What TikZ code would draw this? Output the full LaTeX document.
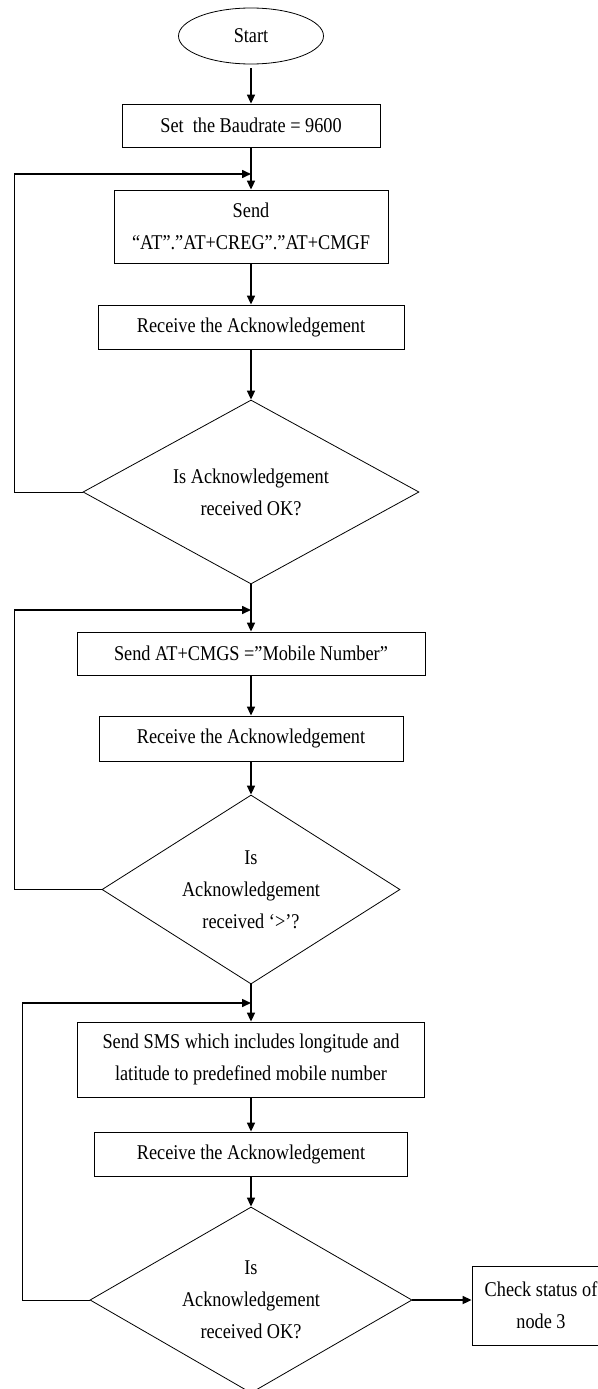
\documentclass[tikz,border=0pt]{standalone}
\usepackage{fontspec}
\setmainfont{Liberation Serif}[FakeStretch=0.87]
\usepackage{tikz}
\usetikzlibrary{positioning,shapes.geometric,arrows.meta}
\tikzset{
	term/.style={ellipse, draw, line width=0.8pt, minimum width=145pt, minimum height=56pt, inner sep=0pt},
	proc box/.style={draw, line width=0.8pt, align=center, inner sep=2pt},
	decision/.style={diamond, draw, line width=0.8pt, align=center, aspect=1.8, inner sep=0pt},
	flow/.style={line width=1.6pt},
	back line/.style={line width=0.8pt}
}

\begin{document}
\begin{tikzpicture}[x=1pt, y=-1pt, >={Triangle[length=9pt,width=8pt]}, font=\fontsize{21}{32}\selectfont]
		\useasboundingbox (0,0) rectangle (597,1389);

		% main column
		\node[term] (start) at (251,36) {Start};
		\node[proc box, minimum width=258pt, minimum height=43pt] (baud) at (251,125.5) {Set~ the Baudrate = 9600};
		\node[proc box, minimum width=274pt, minimum height=73pt] (sendAT) at (251,226.5) {Send\\“AT”.”AT+CREG”.”AT+CMGF};
		\node[proc box, minimum width=306pt, minimum height=44pt] (ackA) at (251,327) {Receive the Acknowledgement};
		\node[decision, minimum width=336pt, minimum height=184pt] (okA) at (251,492) {Is Acknowledgement\\received OK?};

		\node[proc box, minimum width=348pt, minimum height=43pt] (cmgs) at (251,653.5) {Send AT+CMGS =”Mobile Number”};
		\node[proc box, minimum width=304pt, minimum height=45pt] (ackB) at (251,738.5) {Receive the Acknowledgement};
		\node[decision, minimum width=298pt, minimum height=189pt] (okB) at (251,889.5) {Is\\Acknowledgement\\received ‘>’?};

		\node[proc box, minimum width=347pt, minimum height=75pt] (sms) at (251,1059.5) {Send SMS which includes longitude and\\latitude to predefined mobile number};
		\node[proc box, minimum width=313pt, minimum height=44pt] (ackC) at (251,1154) {Receive the Acknowledgement};
		\node[decision, minimum width=322pt, minimum height=186pt] (okC) at (251,1300) {Is\\Acknowledgement\\received OK?};

		\node[proc box, minimum width=138pt, minimum height=79pt] (check) at (541,1305.5) {Check status of\\node 3};

		% arrows down
		\draw[->, flow, shorten <=4pt] (start) -- (baud);
		\draw[->, flow] (baud) -- (sendAT);
		\draw[->, flow] (sendAT) -- (ackA);
		\draw[->, flow] (ackA) -- (okA);
		\draw[->, flow] (okA) -- (cmgs);
		\draw[->, flow] (cmgs) -- (ackB);
		\draw[->, flow] (ackB) -- (okB);
		\draw[->, flow] (okB) -- (sms);
		\draw[->, flow] (sms) -- (ackC);
		\draw[->, flow] (ackC) -- (okC);
		\draw[->, flow] (okC.east) -- (okC.east -| check.west);

		% loops back
		\coordinate (loopA) at (14,174);
		\coordinate (loopB) at (14,610);
		\coordinate (loopC) at (22,1003);
		\draw[back line] (okA.west) -| (loopA);
		\draw[->, flow] (loopA) -- (loopA -| sendAT.north);
		\draw[back line] (okB.west) -| (loopB);
		\draw[->, flow] (loopB) -- (loopB -| cmgs.north);
		\draw[back line] (okC.west) -| (loopC);
		\draw[->, flow] (loopC) -- (loopC -| sms.north);
	\end{tikzpicture}
\end{document}
